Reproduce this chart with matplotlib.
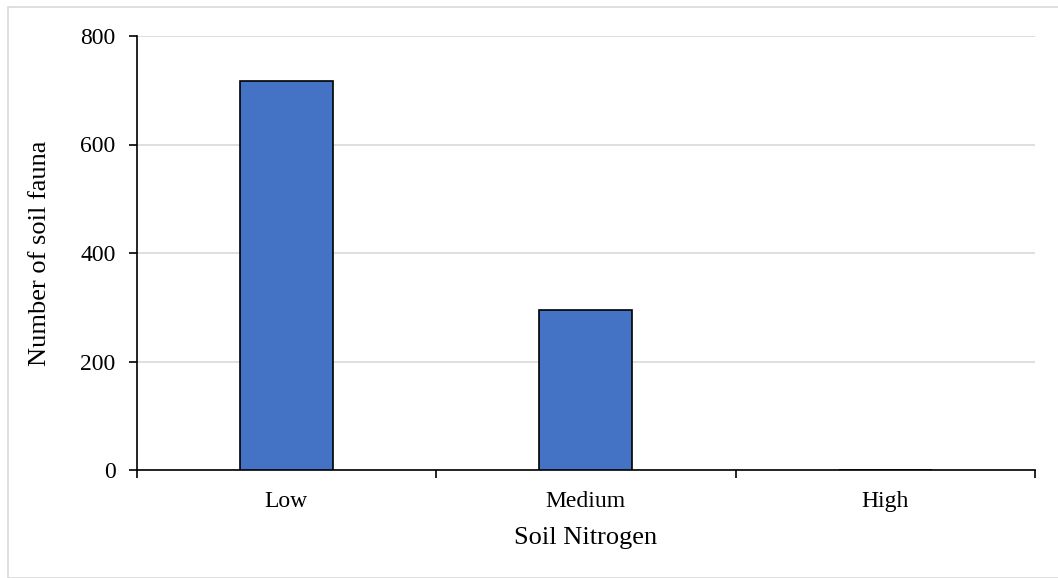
"""Bar chart of soil fauna counts by soil nitrogen level."""

import matplotlib

matplotlib.use("Agg")
import matplotlib.pyplot as plt
from matplotlib.patches import Rectangle

categories = ["Low", "Medium", "High"]
fauna_counts = [717, 295, 0]
y_ticks = [0, 200, 400, 600, 800]

plt.rcParams["font.family"] = ["Liberation Serif", "DejaVu Serif"]

fig = plt.figure(figsize=(10.58, 5.78), dpi=100)
fig.patches.append(
    Rectangle((7.5 / 1058, 0), 1.1, 571.5 / 578, transform=fig.transFigure,
              fill=False, edgecolor="#d9d9d9", linewidth=1.2)
)
ax = fig.add_axes([136.5 / 1058, (578 - 470) / 578, (1035 - 136.5) / 1058, (470 - 36) / 578])

positions = list(range(len(categories)))
ax.bar(positions, fauna_counts, width=0.31, color="#4472c4", edgecolor="black", linewidth=1.2, zorder=3)

ax.set_xlim(-0.5, len(categories) - 0.5)
ax.set_ylim(0, 800)
ax.set_yticks(y_ticks)
ax.yaxis.grid(True, color="#d9d9d9", linewidth=1.2, zorder=0)

ax.set_xticks(positions)
ax.set_xticklabels(categories, fontsize=17)
ax.set_xticks([p - 0.5 for p in positions] + [positions[-1] + 0.5], minor=True)
ax.tick_params(axis="x", which="major", length=0, pad=15)
ax.tick_params(axis="x", which="minor", length=6, width=1.2, direction="out")
ax.tick_params(axis="y", length=6, width=1.2, direction="out", labelsize=17, pad=9)

for side in ("top", "right"):
    ax.spines[side].set_visible(False)
for side in ("left", "bottom"):
    ax.spines[side].set_linewidth(1.2)

ax.set_xlabel("Soil Nitrogen", fontsize=19)
ax.set_ylabel("Number of soil fauna", fontsize=19)
ax.xaxis.set_label_coords(0.5, -0.132)
ax.yaxis.set_label_coords(-0.095, 0.5)

fig.savefig("out.png", dpi=100)
